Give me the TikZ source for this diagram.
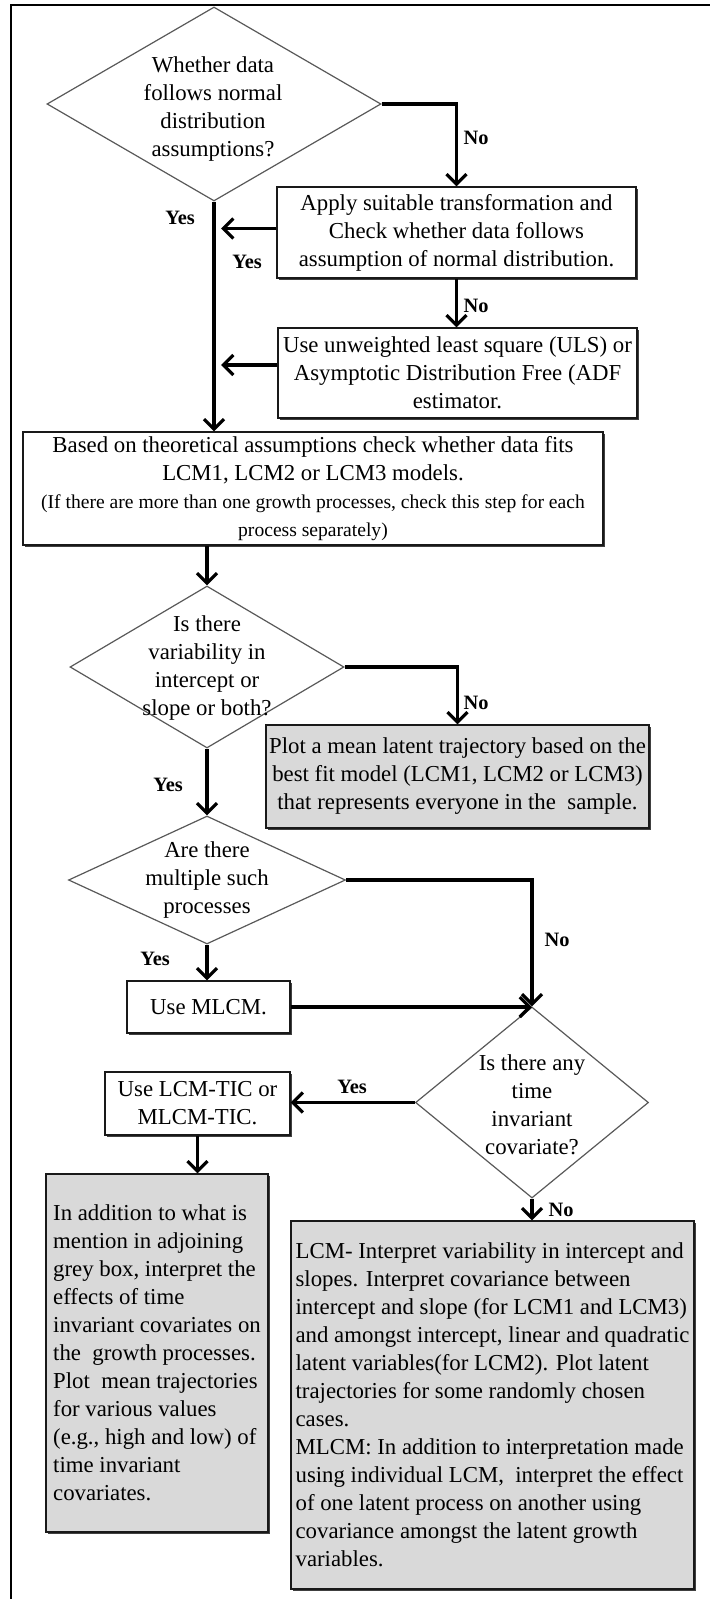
\documentclass[tikz,border=0pt]{standalone}
\usepackage{fontspec}
\setmainfont{Liberation Serif}
\usetikzlibrary{shapes.geometric,arrows.meta,shadows}
\definecolor{boxgrey}{RGB}{217,217,217}
\newcommand\bodysz{\fontsize{11.4pt}{14pt}\selectfont}
\newcommand\smallsz{\fontsize{9.8pt}{12.5pt}\selectfont}
\newcommand\lblsz{\fontsize{10.2pt}{12pt}\selectfont\bfseries}
\begin{document}
\begin{tikzpicture}[x=0.5pt,y=-0.5pt,
  box/.style={draw=black!90, line width=0.55pt, fill=white, inner sep=0pt, align=center, font=\bodysz,
     drop shadow={shadow xshift=0.9pt, shadow yshift=-0.9pt, fill=black!75, opacity=1}},
  greybox/.style={box, fill=boxgrey},
  dia/.style={diamond, draw=black!65, line width=0.6pt, fill=white, inner sep=0pt},
  diatext/.style={align=center, font=\bodysz, inner sep=0pt},
  arr/.style={line width=1.6pt, -{Straight Barb[length=5pt,width=10pt]}},
  lbl/.style={font=\lblsz, inner sep=0pt},
  frameline/.style={line width=1pt}]
\useasboundingbox (0,0) rectangle (710,1599);
% frame
\coordinate (fa) at (11,1599);
\coordinate (fb) at (11,5);
\coordinate (fc) at (710,5);
\draw[frameline] (fa) -- (fb) -- (fc);
\coordinate (jx) at (221,0);

% nodes
\node[dia, minimum width=167pt, minimum height=97pt] (d1) at (214,104) {};
\node[diatext] (d1t) at (213,109) {Whether data\\follows normal\\distribution\\assumptions?};

\node[box, minimum width=179.5pt, minimum height=45.5pt] (b2) at (456.5,232.5)
  {Apply suitable transformation and\\Check whether data follows\\assumption of normal distribution.};
\node[box, minimum width=179.5pt, minimum height=45pt] (b3) at (457.5,373)
  {Use unweighted least square (ULS) or\\Asymptotic Distribution Free (ADF\\estimator.};
\node[box, minimum width=290pt, minimum height=56.5pt] (b4) at (313,488.5)
  {Based on theoretical assumptions check whether data fits\\LCM1, LCM2 or LCM3 models.\\{\smallsz (If there are more than one growth processes, check this step for each}\\{\smallsz process separately)}};

\node[dia, minimum width=137pt, minimum height=81pt] (d2) at (207,667) {};
\node[diatext] (d2t) at (207,668) {Is there\\variability in\\intercept or\\slope or both?};

\node[greybox, minimum width=191.5pt, minimum height=51.5pt] (b5) at (457.5,776.5)
  {Plot a mean latent trajectory based on the\\best fit model (LCM1, LCM2 or LCM3)\\that represents everyone in the~ sample.};

\node[dia, minimum width=138.5pt, minimum height=64pt] (d3) at (207,880) {};
\node[diatext] (d3t) at (207,880) {Are there\\multiple such\\processes};

\node[box, minimum width=81.5pt, minimum height=26pt] (b6) at (208.5,1007) {Use MLCM.};

\node[dia, minimum width=116.5pt, minimum height=95.5pt] (d4) at (532,1102.5) {};
\node[diatext] (d4t) at (532,1105) {Is there any\\time\\invariant\\covariate?};

\node[box, minimum width=92.5pt, minimum height=31.5pt] (b7) at (197.5,1103.5) {Use LCM-TIC or\\MLCM-TIC.};

\node[greybox, align=left, minimum width=111pt, minimum height=179pt] (b8) at (157,1353)
  {In addition to what is\\mention in adjoining\\grey box, interpret the\\effects of time\\invariant covariates on\\the~ growth processes.\\Plot~ mean trajectories\\for various values\\(e.g., high and low) of\\time invariant\\covariates.};

\node[greybox, align=left, minimum width=201.5pt, minimum height=184pt] (b9) at (492.5,1405)
  {LCM- Interpret variability in intercept and\\slopes. Interpret covariance between\\intercept and slope (for LCM1 and LCM3)\\and amongst intercept, linear and quadratic\\latent variables(for LCM2). Plot latent\\trajectories for some randomly chosen\\cases.\\MLCM: In addition to interpretation made\\using individual LCM,~ interpret the effect\\of one latent process on another using\\covariance amongst the latent growth\\variables.};

% connectors
\draw[arr] (d1.east) -| (b2.north);
\draw[arr] (d1.south) -- (d1.south |- b4.north);
\draw[arr] ([yshift=2pt]b2.west) -- ([yshift=2pt]b2.west -| jx);
\draw[arr] (b2.south) -- (b2.south |- b3.north);
\draw[arr] ([yshift=4pt]b3.west) -- ([yshift=4pt]b3.west -| jx);
\draw[arr] (d2.north |- b4.south) -- (d2.north);
\draw[arr] (d2.east) -| (b5.north);
\draw[arr] (d2.south) -- (d3.north);
\draw[arr] (d3.east) -| (d4.north);
\draw[arr] (d3.south) -- (d3.south |- b6.north);
\draw[arr] (b6.east) -- (b6.east -| d4.north);
\draw[arr] (d4.west) -- (d4.west -| b7.east);
\draw[arr] (b7.south) -- (b7.south |- b8.north);
\draw[arr] (d4.south) -- (d4.south |- b9.north);

% labels
\node[lbl] (l1) at (476,138) {No};
\node[lbl] (l2) at (180,218) {Yes};
\node[lbl] (l3) at (247,262) {Yes};
\node[lbl] (l4) at (476,306) {No};
\node[lbl] (l5) at (476,703) {No};
\node[lbl] (l6) at (168,785) {Yes};
\node[lbl] (l7) at (557,940) {No};
\node[lbl] (l8) at (155,959) {Yes};
\node[lbl] (l9) at (352,1087) {Yes};
\node[lbl] (l10) at (561,1210) {No};
\end{tikzpicture}
\end{document}
